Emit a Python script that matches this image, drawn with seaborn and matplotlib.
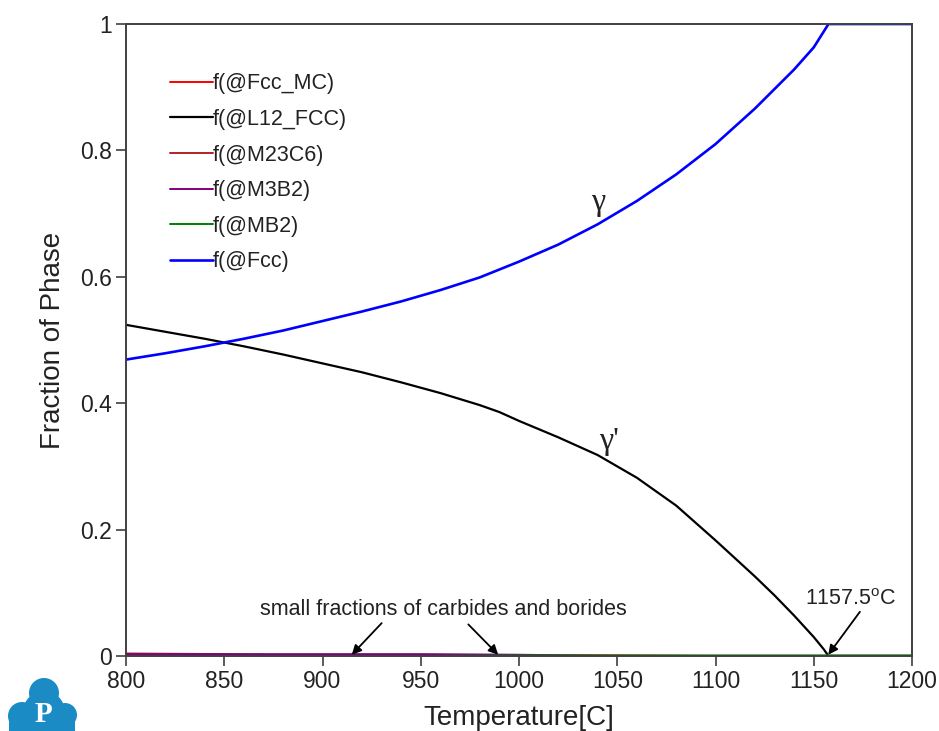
import numpy as np
import pandas as pd
import seaborn as sns
import matplotlib
matplotlib.use("Agg")
import matplotlib.pyplot as plt
from matplotlib.patches import Circle, Rectangle

# ---------------- data ----------------
temp_fcc = [800, 820, 840, 860, 880, 900, 920, 940, 960, 980, 1000, 1020,
            1040, 1060, 1080, 1100, 1120, 1140, 1150, 1157.5, 1175, 1200]
f_fcc = [0.469, 0.479, 0.490, 0.502, 0.515, 0.530, 0.545, 0.561, 0.579,
         0.599, 0.624, 0.651, 0.683, 0.720, 0.762, 0.810, 0.866, 0.928,
         0.963, 1.000, 1.000, 1.000]

temp_l12 = [800, 820, 840, 860, 880, 900, 920, 940, 960, 980, 990, 1000,
            1020, 1040, 1060, 1080, 1100, 1120, 1130, 1140, 1150, 1155,
            1157.5, 1175, 1200]
f_l12 = [0.524, 0.513, 0.502, 0.490, 0.477, 0.463, 0.449, 0.433, 0.416,
         0.397, 0.386, 0.372, 0.346, 0.318, 0.282, 0.238, 0.183, 0.126,
         0.096, 0.064, 0.030, 0.011, 0.000, 0.000, 0.000]

temp_small = [800, 850, 900, 950, 1000, 1050, 1100, 1150, 1200]
f_fcc_mc = [0.001, 0.001, 0.001, 0.001, 0.001, 0.001, 0.000, 0.000, 0.000]
f_m23c6 = [0.004, 0.003, 0.000, 0.000, 0.000, 0.000, 0.000, 0.000, 0.000]
f_m3b2 = [0.003, 0.003, 0.003, 0.003, 0.002, 0.000, 0.000, 0.000, 0.000]
f_mb2 = [0.000, 0.000, 0.000, 0.000, 0.001, 0.001, 0.001, 0.001, 0.001]

phase_labels = ["f(@Fcc_MC)", "f(@L12_FCC)", "f(@M23C6)", "f(@M3B2)",
                "f(@MB2)", "f(@Fcc)"]
phase_colors = ["#ff0000", "#000000", "#b22222", "#800080", "#008000", "#0000ff"]

x_ticks = [800, 850, 900, 950, 1000, 1050, 1100, 1150, 1200]
y_ticks = [0, 0.2, 0.4, 0.6, 0.8, 1]
y_ticklabels = ["0", "0.2", "0.4", "0.6", "0.8", "1"]

# ---------------- style ----------------
sns.set_theme(style="white")
plt.rcParams["font.family"] = ["Liberation Sans", "DejaVu Sans"]
plt.rcParams["mathtext.fontset"] = "custom"
plt.rcParams["mathtext.rm"] = "Liberation Sans"

fig = plt.figure(figsize=(9.39, 7.31), dpi=100)
ax = fig.add_axes([126 / 939, 75 / 731, 786 / 939, 632 / 731])

series = [
    (temp_small, f_fcc_mc, 1.4),
    (temp_l12, f_l12, 1.6),
    (temp_small, f_m23c6, 1.4),
    (temp_small, f_m3b2, 1.4),
    (temp_small, f_mb2, 1.4),
    (temp_fcc, f_fcc, 1.9),
]
for (tx, fy, lw), lab, col in zip(series, phase_labels, phase_colors):
    df = pd.DataFrame({"Temperature": tx, "Fraction": fy})
    sns.lineplot(data=df, x="Temperature", y="Fraction", ax=ax, color=col,
                 linewidth=lw, label=lab, estimator=None, sort=True)

ax.set_xlim(800, 1200)
ax.set_ylim(0, 1)
ax.set_xticks(x_ticks)
ax.set_xticklabels([str(t) for t in x_ticks])
ax.set_yticks(y_ticks)
ax.set_yticklabels(y_ticklabels)
ax.tick_params(axis="both", which="both", direction="out", length=7, width=1.2,
               color="#404040", labelsize=16.5, labelcolor="#222222", pad=3,
               bottom=True, left=True, top=False, right=False)
for sp in ax.spines.values():
    sp.set_color("#404040")
    sp.set_linewidth(1.4)
    sp.set_visible(True)

ax.set_xlabel("Temperature[C]", fontsize=20, color="#222222", labelpad=9)
ax.set_ylabel("Fraction of Phase", fontsize=20, color="#222222", labelpad=10)

leg = ax.legend(loc="upper left", bbox_to_anchor=(0.056, 0.922), frameon=False,
                fontsize=15.5, handlelength=2.0, handletextpad=0.0,
                labelspacing=0.68, borderpad=0, borderaxespad=0)
for t in leg.get_texts():
    t.set_color("#222222")

# ---------------- annotations ----------------
arrow_kw = dict(arrowstyle="-|>", color="black", lw=1.3,
                mutation_scale=14, shrinkA=0, shrinkB=0)
ax.text(961.3, 0.073, "small fractions of carbides and borides",
        ha="center", va="center", fontsize=15.5, color="#222222")
ax.annotate("", xy=(914.9, 0.002), xytext=(930.1, 0.052), arrowprops=arrow_kw)
ax.annotate("", xy=(989.4, 0.002), xytext=(974.2, 0.050), arrowprops=arrow_kw)

ax.text(1169.0, 0.089, "1157.5$^{\\mathrm{o}}$C", ha="center", va="center",
        fontsize=15.5, color="#222222")
ax.annotate("", xy=(1157.4, 0.002), xytext=(1173.5, 0.070), arrowprops=arrow_kw)

ax.text(1040.2, 0.718, "γ", ha="center", va="center", fontsize=23,
        fontfamily="Liberation Serif", color="#222222")
ax.text(1046.0, 0.340, "γ'", ha="center", va="center", fontsize=23,
        fontfamily="Liberation Serif", color="#222222")

# ---------------- logo (bottom-left) ----------------
lax = fig.add_axes([0, 0, 90 / 939, 56 / 731])
lax.set_xlim(0, 90)
lax.set_ylim(0, 56)
lax.set_aspect("equal")
lax.axis("off")
logo_c = "#1b8bc6"
for (cx, cy, r) in [(44, 38, 15), (22, 15, 14), (65, 16, 12), (44, 19, 21)]:
    lax.add_patch(Circle((cx, cy), r, color=logo_c, lw=0))
lax.add_patch(Rectangle((9, -2), 66, 16, color=logo_c, lw=0))
lax.text(43, 17, "P", ha="center", va="center", fontsize=21, color="white",
         fontweight="bold", fontfamily="Liberation Serif")

fig.savefig("out.png", dpi=100)
